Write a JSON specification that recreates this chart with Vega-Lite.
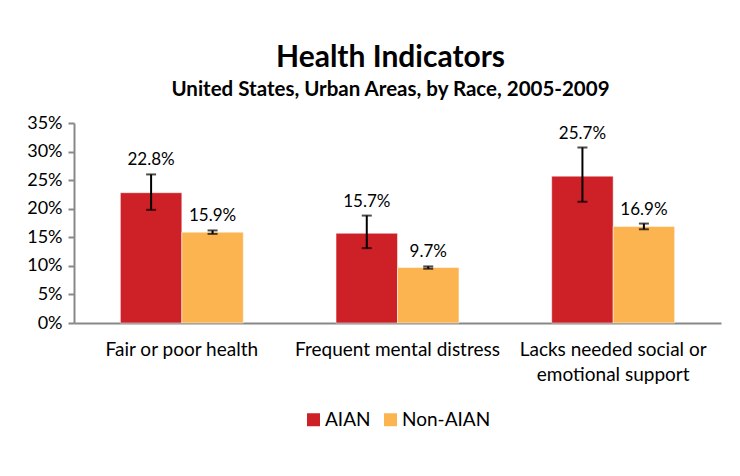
{
  "$schema": "https://vega.github.io/schema/vega-lite/v6.json",
  "autosize": "none",
  "width": 647,
  "height": 200,
  "padding": {"left": 74, "top": 123, "right": 19, "bottom": 153},
  "background": "white",
  "config": {
    "view": {"stroke": null},
    "legend": {"layout": {"bottom": {"anchor": "middle"}}},
    "axisY": {
      "title": null,
      "format": ".0%",
      "labelOverlap": false,
      "grid": false,
      "labelFont": "Lato",
      "labelFontSize": 18,
      "labelColor": "black",
      "labelPadding": 6,
      "tickSize": 6,
      "tickColor": "#888888",
      "tickWidth": 2,
      "domainColor": "#888888",
      "domainWidth": 2
    }
  },
  "title": {
    "text": "Health Indicators",
    "subtitle": "United States, Urban Areas, by Race, 2005-2009",
    "font": "Lato",
    "fontSize": 30,
    "fontWeight": "bold",
    "color": "black",
    "subtitleFont": "Lato",
    "subtitleFontSize": 20.5,
    "subtitleFontWeight": "bold",
    "subtitleColor": "black",
    "subtitlePadding": 7,
    "anchor": "middle",
    "dx": -7,
    "offset": 14
  },
  "data": {
    "values": [
      {"category": "Fair or poor health", "group": "AIAN", "value": 0.228, "lo": 0.198, "hi": 0.260},
      {"category": "Fair or poor health", "group": "Non-AIAN", "value": 0.159, "lo": 0.156, "hi": 0.162},
      {"category": "Frequent mental distress", "group": "AIAN", "value": 0.157, "lo": 0.131, "hi": 0.188},
      {"category": "Frequent mental distress", "group": "Non-AIAN", "value": 0.097, "lo": 0.095, "hi": 0.099},
      {"category": "Lacks needed social or emotional support", "group": "AIAN", "value": 0.257, "lo": 0.212, "hi": 0.307},
      {"category": "Lacks needed social or emotional support", "group": "Non-AIAN", "value": 0.169, "lo": 0.164, "hi": 0.174}
    ]
  },
  "encoding": {
    "x": {
      "field": "category",
      "type": "nominal",
      "sort": null,
      "scale": {"paddingInner": 0.43, "paddingOuter": 0.215},
      "axis": {
        "title": null,
        "labelAngle": 0,
        "labelFont": "Lato",
        "labelFontSize": 19,
        "labelColor": "black",
        "labelPadding": 17,
        "labelLineHeight": 25,
        "labelLimit": 300,
        "ticks": false,
        "domainColor": "#888888",
        "domainWidth": 2,
        "labelExpr": "datum.label == 'Lacks needed social or emotional support' ? ['Lacks needed social or', 'emotional support'] : datum.label"
      }
    },
    "xOffset": {
      "field": "group",
      "type": "nominal",
      "scale": {"paddingInner": 0, "paddingOuter": 0}
    }
  },
  "layer": [
    {
      "mark": {"type": "bar", "stroke": "white", "strokeWidth": 0.5},
      "encoding": {
        "y": {
          "field": "value",
          "type": "quantitative",
          "scale": {"domain": [0, 0.35], "nice": false},
          "axis": {"values": [0, 0.05, 0.1, 0.15, 0.2, 0.25, 0.3, 0.35]}
        },
        "color": {
          "field": "group",
          "type": "nominal",
          "scale": {"domain": ["AIAN", "Non-AIAN"], "range": ["#CD2027", "#FBB450"]},
          "legend": {
            "title": null,
            "orient": "bottom",
            "direction": "horizontal",
            "symbolType": "square",
            "symbolSize": 169,
            "symbolStrokeWidth": 0,
            "labelFont": "Lato",
            "labelFontSize": 19,
            "labelColor": "black",
            "labelOffset": 2,
            "columnPadding": 10,
            "offset": 26
          }
        }
      }
    },
    {
      "mark": {"type": "rule", "color": "black", "strokeWidth": 2},
      "encoding": {
        "y": {"field": "lo", "type": "quantitative", "axis": {"values": [0, 0.05, 0.1, 0.15, 0.2, 0.25, 0.3, 0.35]}},
        "y2": {"field": "hi"}
      }
    },
    {
      "mark": {"type": "tick", "color": "black", "thickness": 2, "size": 10, "orient": "horizontal"},
      "encoding": {
        "y": {"field": "lo", "type": "quantitative", "axis": {"values": [0, 0.05, 0.1, 0.15, 0.2, 0.25, 0.3, 0.35]}}
      }
    },
    {
      "mark": {"type": "tick", "color": "black", "thickness": 2, "size": 10, "orient": "horizontal"},
      "encoding": {
        "y": {"field": "hi", "type": "quantitative", "axis": {"values": [0, 0.05, 0.1, 0.15, 0.2, 0.25, 0.3, 0.35]}}
      }
    },
    {
      "mark": {"type": "text", "font": "Lato", "fontSize": 17, "color": "black", "dy": -14, "baseline": "middle"},
      "encoding": {
        "y": {"field": "hi", "type": "quantitative", "axis": {"values": [0, 0.05, 0.1, 0.15, 0.2, 0.25, 0.3, 0.35]}},
        "text": {"field": "value", "type": "quantitative", "format": ".1%"}
      }
    }
  ]
}
